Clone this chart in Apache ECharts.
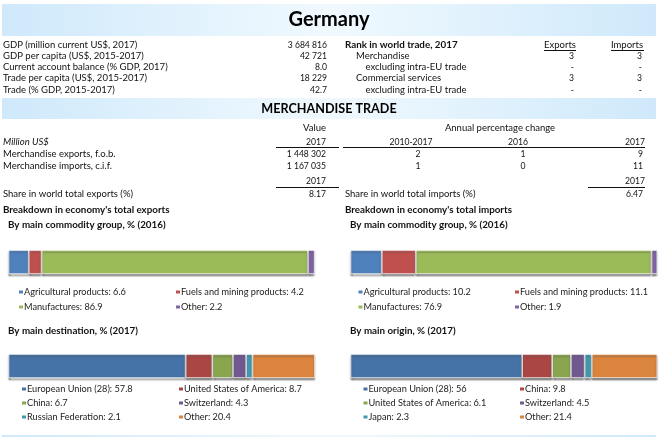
<!DOCTYPE html>
<html>
<head>
<meta charset="utf-8">
<title>Germany</title>
<style>
html, body { margin: 0; padding: 0; background: #fff; }
#chart { width: 659px; height: 437px; }
</style>
<script src="https://cdn.jsdelivr.net/npm/echarts@6/dist/echarts.min.js"></script>
</head>
<body>
<div id="chart"></div>
<script>
// figures
var profileLabels = ['GDP (million current US$, 2017)', 'GDP per capita (US$, 2015-2017)', 'Current account balance (% GDP, 2017)', 'Trade per capita (US$, 2015-2017)', 'Trade (% GDP, 2015-2017)'];
var profileValues = ['3 684 816', '42 721', '8.0', '18 229', '42.7'];
var rankLabels = ['Merchandise', 'excluding intra-EU trade', 'Commercial services', 'excluding intra-EU trade'];
var rankExports = ['3', '-', '3', '-'];
var rankImports = ['3', '-', '3', '-'];
var tradeLabels = ['Merchandise exports, f.o.b.', 'Merchandise imports, c.i.f.'];
var tradeValues = ['1 448 302', '1 167 035'];
var change20102017 = ['2', '1'];
var change2016 = ['1', '0'];
var change2017 = ['9', '11'];

var commodityNames = ['Agricultural products', 'Fuels and mining products', 'Manufactures', 'Other'];
var exportCommodity = [6.6, 4.2, 86.9, 2.2];
var importCommodity = [10.2, 11.1, 76.9, 1.9];
var destinationNames = ['European Union (28)', 'United States of America', 'China', 'Switzerland', 'Russian Federation', 'Other'];
var destinationValues = [57.8, 8.7, 6.7, 4.3, 2.1, 20.4];
var originNames = ['European Union (28)', 'China', 'United States of America', 'Switzerland', 'Japan', 'Other'];
var originValues = [56, 9.8, 6.1, 4.5, 2.3, 21.4];

var commodityColors = ['#4F81BD', '#C0504D', '#9BBB59', '#8064A2'];
var partnerColors = ['#4572A7', '#AA4643', '#89A54E', '#71588F', '#4198AF', '#DB843D'];

var FONT = 'Lato';
var INK = '#111';
var BODY = 9.5;
var BOLD = 9.8;
var NUM = 8.6;
var graphics = [];

function txt(x, y, text, opts) {
	opts = opts || {};
	graphics.push({
		type: 'text', x: x, y: y, silent: true,
		style: {
			text: text,
			font: (opts.style || '') + ' ' + (opts.size || BODY) + 'px ' + FONT,
			fill: opts.fill || INK,
			textAlign: opts.align || 'left',
			textVerticalAlign: 'middle'
		}
	});
}
function rule(x1, x2, y) {
	graphics.push({ type: 'line', silent: true, shape: { x1: x1, y1: y, x2: x2, y2: y }, style: { stroke: '#111', lineWidth: 1 } });
}
function band(y, h) {
	graphics.push({
		type: 'rect', silent: true, z: -1,
		shape: { x: 2, y: y, width: 654, height: h },
		style: {
			fill: new echarts.graphic.LinearGradient(0, 0, 1, 0, [
				{ offset: 0, color: '#cfe9fb' },
				{ offset: 0.5, color: '#f0f9fe' },
				{ offset: 1, color: '#cfe9fb' }
			])
		}
	});
}

band(4, 32);
band(98, 21);
band(435, 2);
txt(329, 20, 'Germany', { style: 'bold', size: 20, align: 'center', fill: '#000' });
txt(329, 108.5, 'MERCHANDISE TRADE', { style: 'bold', size: 12.6, align: 'center', fill: '#000' });

var profileY = [45, 56, 67, 78, 90];
profileLabels.forEach(function (l, i) {
	txt(3, profileY[i], l);
	txt(327, profileY[i], profileValues[i], { align: 'right', size: NUM });
});

txt(345, 45, 'Rank in world trade, 2017', { style: 'bold', size: BOLD });
txt(560, 45, 'Exports', { align: 'center' });
txt(627, 45, 'Imports', { align: 'center' });
rule(544, 576, 50.5);
rule(611, 644, 50.5);
var rankX = [356, 365.5, 356, 365.5];
rankLabels.forEach(function (l, i) {
	txt(rankX[i], profileY[i + 1], l);
	txt(574, profileY[i + 1], rankExports[i], { align: 'right', size: NUM });
	txt(642, profileY[i + 1], rankImports[i], { align: 'right', size: NUM });
});

txt(326, 128, 'Value', { align: 'right' });
txt(500, 128, 'Annual percentage change', { align: 'center' });
txt(3, 142, 'Million US$', { style: 'italic' });
txt(326, 142, '2017', { align: 'right', size: NUM });
txt(411, 142, '2010-2017', { align: 'center', size: NUM });
txt(518, 142, '2016', { align: 'center', size: NUM });
txt(645, 142, '2017', { align: 'right', size: NUM });
rule(276, 339, 147.5);
rule(343, 645, 147.5);

var tradeY = [154, 166];
tradeLabels.forEach(function (l, i) {
	txt(3, tradeY[i], l);
	txt(326, tradeY[i], tradeValues[i], { align: 'right', size: NUM });
	txt(418, tradeY[i], change20102017[i], { align: 'center', size: NUM });
	txt(523, tradeY[i], change2016[i], { align: 'center', size: NUM });
	txt(643, tradeY[i], change2017[i], { align: 'right', size: NUM });
});

txt(326, 181, '2017', { align: 'right', size: NUM });
txt(645, 181, '2017', { align: 'right', size: NUM });
rule(276, 339, 187.5);
rule(588, 645, 187.5);
txt(3, 194, 'Share in world total exports (%)');
txt(345, 194, 'Share in world total imports (%)');
txt(326, 194, '8.17', { align: 'right', size: NUM });
txt(643, 194, '6.47', { align: 'right', size: NUM });

txt(3, 210, "Breakdown in economy's total exports", { style: 'bold', size: BOLD });
txt(345, 210, "Breakdown in economy's total imports", { style: 'bold', size: BOLD });
txt(8, 225, 'By main commodity group, % (2016)', { style: 'bold', size: BOLD });
txt(350, 225, 'By main commodity group, % (2016)', { style: 'bold', size: BOLD });
txt(8, 331, 'By main destination, % (2017)', { style: 'bold', size: BOLD });
txt(350, 331, 'By main origin, % (2017)', { style: 'bold', size: BOLD });

// one stacked bar per panel
var panels = [
	{ names: commodityNames, values: exportCommodity, colors: commodityColors, left: 8.5, top: 250, cols: [17, 174], legendTop: 287, gap: 5 },
	{ names: commodityNames, values: importCommodity, colors: commodityColors, left: 350.5, top: 250, cols: [356.5, 513], legendTop: 287, gap: 5 },
	{ names: destinationNames, values: destinationValues, colors: partnerColors, left: 8.5, top: 354, cols: [20, 177], legendTop: 384, gap: 4 },
	{ names: originNames, values: originValues, colors: partnerColors, left: 350.5, top: 354, cols: [361.5, 518], legendTop: 384, gap: 4 }
];

var grids = [], xAxes = [], yAxes = [], series = [], legends = [];
panels.forEach(function (p, idx) {
	grids.push({ left: p.left, top: p.top, width: 306.5, height: 24 });
	xAxes.push({ type: 'value', gridIndex: idx, min: 0, max: 100, show: false });
	yAxes.push({ type: 'category', gridIndex: idx, data: [''], show: false });
	var labels = p.names.map(function (n, i) { return n + ': ' + p.values[i]; });
	labels.forEach(function (label, i) {
		series.push({
			name: label,
			type: 'bar',
			stack: 'panel' + idx,
			xAxisIndex: idx,
			yAxisIndex: idx,
			barWidth: '100%',
			data: [p.values[i]],
			itemStyle: {
				color: p.colors[i],
				borderColor: '#fff',
				borderWidth: 0.7,
				shadowColor: 'rgba(90,90,90,0.75)',
				shadowBlur: 1.5,
				shadowOffsetY: 2
			},
			emphasis: { disabled: true },
			silent: true
		});
	});
	[0, 1].forEach(function (col) {
		legends.push({
			orient: 'vertical',
			left: p.cols[col],
			top: p.legendTop,
			padding: 0,
			itemWidth: 6,
			itemHeight: 5,
			itemGap: p.gap,
			icon: 'rect',
			selectedMode: false,
			data: labels.filter(function (l, i) { return i % 2 === col; }),
			textStyle: { fontFamily: FONT, fontSize: 9.2, lineHeight: 10, color: '#222', padding: [0, 0, 0, -5] }
		});
	});
});

var myChart = echarts.init(document.getElementById('chart'));
myChart.setOption({
	animation: false,
	backgroundColor: '#fff',
	grid: grids,
	xAxis: xAxes,
	yAxis: yAxes,
	legend: legends,
	series: series,
	graphic: { elements: graphics }
});
</script>
</body>
</html>
